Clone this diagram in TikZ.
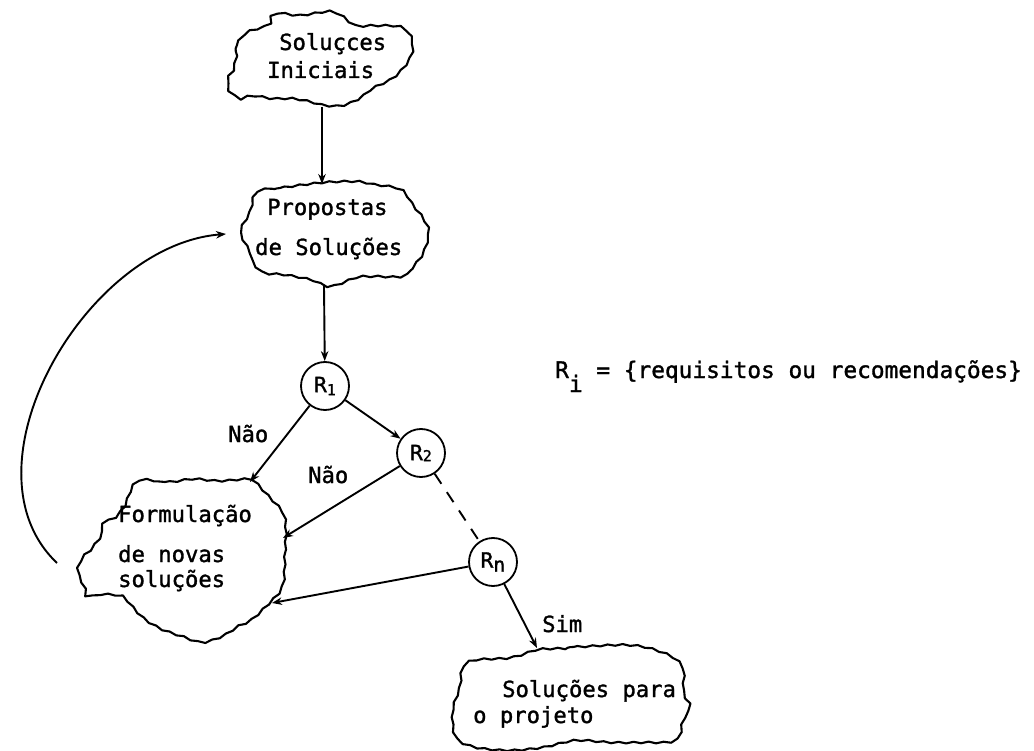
\documentclass[tikz,border=0pt]{standalone}
\usepackage{fontspec}
\newfontfamily\typew[FakeBold=1.4]{DejaVu Sans Mono}
\usetikzlibrary{arrows.meta,decorations.pathmorphing}
\begin{document}
\begin{tikzpicture}[x=1pt,y=-1pt,
  txt/.style={font=\typew\fontsize{22.2}{24}\selectfont, inner sep=0pt, anchor=base west},
  reqtxt/.style={font=\typew\fontsize{22.8}{24}\selectfont, inner sep=0pt, anchor=base west},
  cloudline/.style={line width=2.1pt, line join=round, decorate,
    decoration={snake, amplitude=0.8pt, segment length=15pt}},
  req/.style={circle, draw, line width=1.8pt, minimum size=48pt, inner sep=0pt,
    font=\typew\fontsize{21}{22}\selectfont},
  link/.style={line width=1.9pt, -{Stealth[length=10pt,width=7.5pt]}},
]
\useasboundingbox (0,0) rectangle (1034,751);

% initial solutions
\draw[cloudline] plot[smooth cycle, tension=0.55] coordinates {
  (231,70) (237,45) (247,35) (267,28) (272,15) (297,17) (327,13) (340,18)
  (353,27) (370,27) (397,28) (408,37) (410,53) (403,67) (390,80) (370,90)
  (357,100) (340,107) (323,107) (307,103) (290,100) (270,100) (250,97)
  (237,100) (226,92) (225,80)};
\node[txt] (t1a) at (279,50) {Soluçces};
\node[txt] (t1b) at (267,78) {Iniciais};
\coordinate (c1b) at (322,107);
\coordinate (c2t) at (322,184);

% proposed solutions
\draw[cloudline] plot[smooth cycle, tension=0.55] coordinates {
  (253,193) (280,188) (320,183) (353,182) (370,185) (397,190) (410,207)
  (420,220) (425,233) (420,253) (410,267) (400,277) (370,277) (353,278)
  (327,287) (307,280) (280,275) (260,273) (250,263) (247,253) (240,240)
  (238,230) (247,213) (250,200)};
\node[txt] (t2a) at (267,215) {Propostas};
\node[txt] (t2b) at (255,255) {de Soluções};
\coordinate (c2b) at (324,286);
\coordinate (pL) at (226,234);

% reformulation
\draw[cloudline] plot[smooth cycle, tension=0.55] coordinates {
  (133,480) (165,482) (190,479) (215,481) (245,479) (250,482) (264,497)
  (278,513) (281,530) (280,555) (279,580) (275,592) (266,602) (247,620)
  (233,627) (217,637) (197,643) (177,637) (157,630) (140,620) (127,607)
  (117,597) (97,595) (83,597) (80,587) (73,570) (77,557) (87,547) (97,533)
  (97,523) (110,517) (120,505)};
\node[txt] (t3a) at (118,522) {Formulação};
\node[txt] (t3b) at (118,562) {de novas};
\node[txt] (t3c) at (118,587) {soluções};
\coordinate (f1) at (250,482);
\coordinate (f2) at (283,538);
\coordinate (f3) at (272,603);
\coordinate (fL) at (57,563);

% final solutions
\draw[cloudline] plot[smooth cycle, tension=0.55] coordinates {
  (537,648) (573,647) (617,645) (640,647) (660,653) (673,660) (680,670)
  (680,693) (687,707) (680,720) (673,740) (640,742) (607,742) (573,740)
  (540,747) (507,750) (473,747) (453,737) (450,710) (457,687) (460,667)
  (473,660) (507,658) (530,651)};
\node[txt] (t4a) at (502,697) {Soluções para};
\node[txt] (t4b) at (473,723) {o projeto};
\coordinate (s4) at (537,648);

% requirement checks
\node[req] (r1) at (325,386) {R\raisebox{-3pt}{\fontsize{15}{15}\selectfont 1}};
\node[req] (r2) at (421,453) {R\raisebox{-1pt}{\fontsize{15}{15}\selectfont 2}};
\node[req] (rn) at (493,562) {R\raisebox{-4pt}{\fontsize{20}{20}\selectfont n}};

% flow
\draw[link] (c1b) -- (c2t);
\draw[link] (c2b) -- (r1);
\draw[link] (r1) -- (r2);
\draw[link] (r1) -- (f1);
\draw[link] (r2) -- (f2);
\draw[line width=1.9pt, dash pattern=on 12pt off 10pt] (r2) -- (rn);
\draw[link] (rn) -- (f3);
\draw[link] (rn) -- (s4);
\draw[link] (fL) .. controls +(-100,-95) and +(-141,11) .. (pL);

% labels
\node[txt] (l1) at (228,442) {Não};
\node[txt] (l2) at (308,483) {Não};
\node[txt] (l3) at (542,632) {Sim};
\node[reqtxt] (def) at (555,378) {R\raisebox{-14pt}{i} = \{requisitos ou recomendações\}};
\end{tikzpicture}
\end{document}
